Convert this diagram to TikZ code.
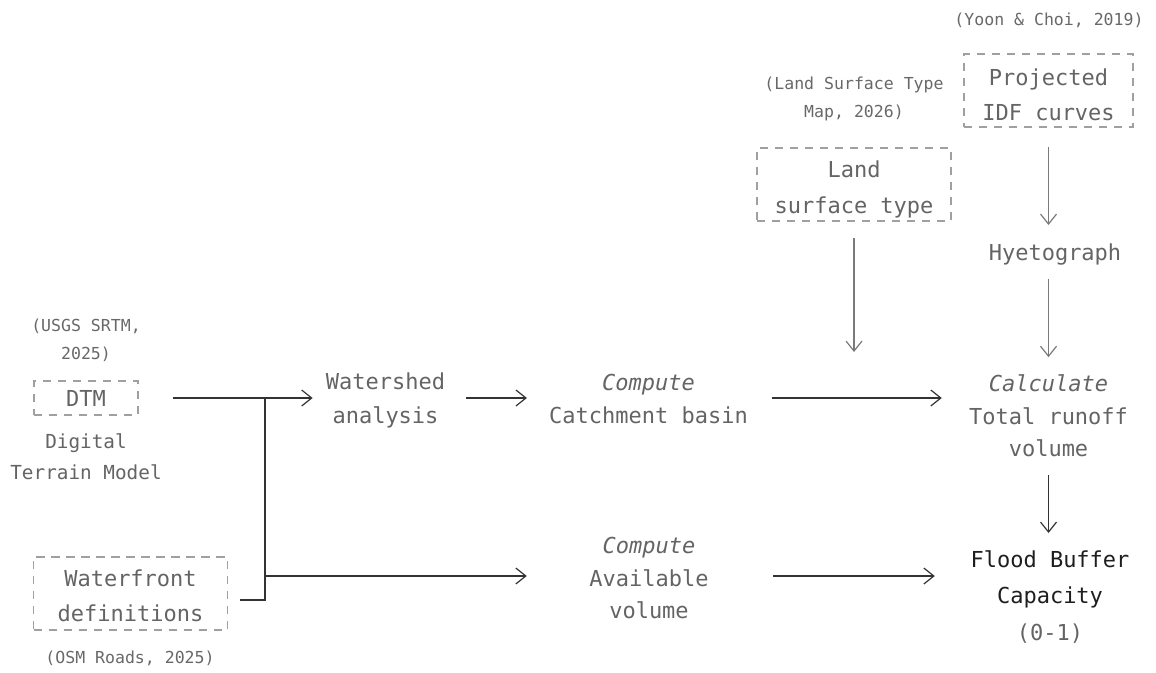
\documentclass[tikz,border=0pt]{standalone}
\usepackage{fontspec}
\setmainfont{DejaVu Sans Mono}
\usetikzlibrary{arrows.meta}

\definecolor{txtgray}{HTML}{646464}
\definecolor{citegray}{HTML}{686868}
\definecolor{boxgray}{HTML}{A0A0A0}
\definecolor{linedark}{HTML}{333333}
\definecolor{linegray}{HTML}{7A7A7A}
\definecolor{inkdark}{HTML}{1E1E1E}

\begin{document}
\begin{tikzpicture}[x=0.75pt,y=-0.75pt,
  bigfont/.style={font=\fontsize{16.5}{24.5}\selectfont},
  srcbox/.style={draw=boxgray, line width=1.2pt, dash pattern=on 6.25pt off 5pt,
    inner sep=0pt, align=center, text=txtgray, font=\fontsize{16.5}{26.5}\selectfont},
  boxtext/.style={inner sep=0pt, align=center, text=txtgray, font=\fontsize{16.5}{26.5}\selectfont},
  cite/.style={inner sep=0pt, align=center, text=citegray, font=\fontsize{12.4}{21}\selectfont},
  desc/.style={inner sep=0pt, align=center, text=txtgray, font=\fontsize{14.5}{23.25}\selectfont},
  proc/.style={inner sep=0pt, align=center, text=txtgray, bigfont},
  tip/.style={-{Straight Barb[length=7.5pt,width=12pt]}},
  hlink/.style={tip, draw=linedark, line width=0.9pt},
  vlink/.style={tip, draw=linegray, line width=0.9pt},
  plain/.style={draw=linedark, line width=0.9pt}]

\useasboundingbox (0,0) rectangle (1156,672);

% source data boxes (frame and caption)
\node[srcbox, minimum width=126.75pt, minimum height=54.75pt] (idf) at (1048.5,90.5) {};
\node[boxtext] (idftext) at (1048.5,94.5) {Projected\\IDF curves};
\node[srcbox, minimum width=145.5pt, minimum height=54.75pt] (land) at (854,184.5) {};
\node[boxtext] (landtext) at (854,189.5) {Land\\surface type};
\node[srcbox, minimum width=78pt, minimum height=25.5pt] (dtm) at (86,398) {DTM};
\node[srcbox, minimum width=145.5pt, minimum height=54.75pt] (wf) at (130.5,593.5) {};
\node[boxtext] (wftext) at (130.5,595.5) {Waterfront\\definitions};

% sources of the data
\node[cite] (yoon) at (1049,20) {(Yoon \& Choi, 2019)};
\node[cite] (lstcite) at (854,99) {(Land Surface Type\\Map, 2026)};
\node[cite] (usgs) at (86,340) {(USGS SRTM,\\2025)};
\node[cite] (osm) at (130,658) {(OSM Roads, 2025)};
\node[desc] (dtmdesc) at (86,457) {Digital\\Terrain Model};

% processing steps
\node[proc, font=\fontsize{16.5}{25.5}\selectfont] (wshed) at (385.5,400) {Watershed\\analysis};
\node[proc, minimum width=148.95pt] (catch) at (648.5,399) {\textit{Compute}\\Catchment basin};
\node[proc, minimum width=148.95pt] (avail) at (649,578) {\textit{Compute}\\Available\\volume};
\node[proc] (hyeto) at (1055,254) {Hyetograph};
\node[proc] (calc) at (1048.5,416) {\textit{Calculate}\\Total runoff\\volume};
\node[proc, text=inkdark, font=\fontsize{16.5}{27.4}\selectfont] (flood) at (1050,597)
  {Flood Buffer\\Capacity\\\textcolor{txtgray}{(0-1)}};

% junction of the DTM and waterfront inputs
\coordinate (jtop) at (265,398);
\coordinate (jmid) at (265,576);
\coordinate (landend) at (854,352);

% horizontal flow
\draw[hlink, shorten <=25.5pt, shorten >=9.75pt] (dtm.east) -- (dtm.east -| wshed.west);
\draw[hlink, shorten <=15.75pt, shorten >=16.5pt] (dtm.east -| wshed.east) -- (dtm.east -| catch.west);
\draw[hlink, shorten <=18pt, shorten >=20.25pt] (dtm.east -| catch.east) -- (dtm.east -| calc.west);
\draw[plain] ([xshift=9pt,yshift=-4.875pt]wf.east) -| (jtop) -- ([xshift=76.5pt]dtm.east);
\draw[hlink, shorten >=17pt] (jmid) -- (jmid -| avail.west);
\draw[hlink, shorten <=18.5pt, shorten >=26.6pt] (jmid -| avail.east) -- (jmid -| flood.west);

% vertical flow
\draw[vlink, shorten <=14.25pt, shorten >=13.5pt] (idf.south) -- (idf.south |- hyeto.north);
\draw[vlink, shorten <=10.5pt, shorten >=13pt] (idf.south |- hyeto.south) -- (idf.south |- calc.north);
\draw[vlink, shorten <=12pt] (land.south) -- (landend);
\draw[hlink, shorten <=13pt, shorten >=13pt] (idf.south |- calc.south) -- (idf.south |- flood.north);

\end{tikzpicture}
\end{document}
